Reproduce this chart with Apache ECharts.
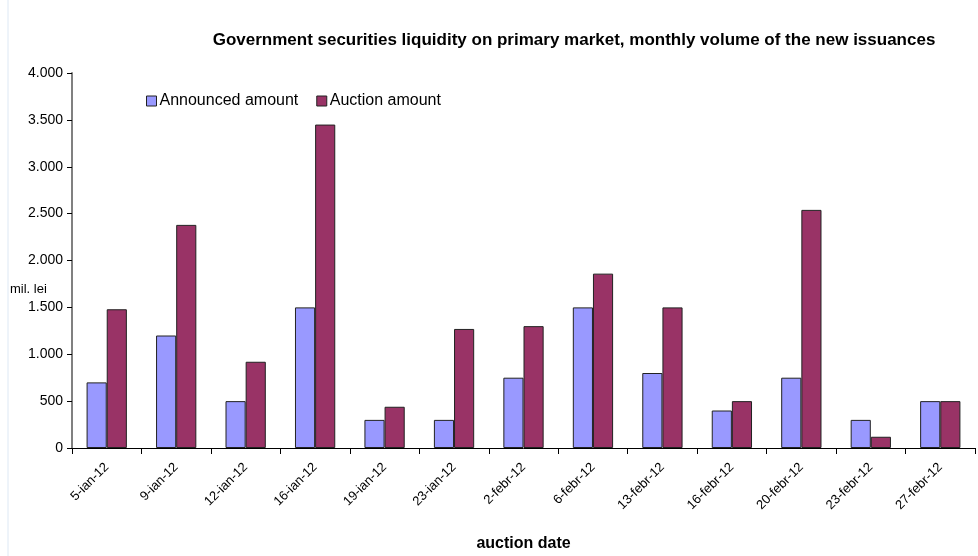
<!DOCTYPE html>
<html>
<head>
<meta charset="utf-8">
<script src="https://cdn.jsdelivr.net/npm/echarts@6/dist/echarts.min.js"></script>
<style>
  html, body { margin: 0; padding: 0; background: #fff; }
  #chart { width: 978px; height: 556px; }
</style>
</head>
<body>
<div id="chart"></div>
<script>
var dates = ['5-ian-12', '9-ian-12', '12-ian-12', '16-ian-12', '19-ian-12', '23-ian-12', '2-febr-12',
  '6-febr-12', '13-febr-12', '16-febr-12', '20-febr-12', '23-febr-12', '27-febr-12'];
var announced = [700, 1200, 500, 1500, 300, 300, 750, 1500, 800, 400, 750, 300, 500];
var auction = [1480, 2380, 920, 3450, 440, 1270, 1300, 1860, 1500, 500, 2540, 120, 500];
var yTicks = [0, 500, 1000, 1500, 2000, 2500, 3000, 3500, 4000];

var fmt = function (v) {
  return String(v).replace(/\B(?=(\d{3})+(?!\d))/g, '.');
};

var chart = echarts.init(document.getElementById('chart'));
var option = {
  backgroundColor: '#fff',
  animation: false,
  textStyle: { fontFamily: 'Liberation Sans, Arial, sans-serif' },
  title: {
    text: 'Government securities liquidity on primary market, monthly volume of the new issuances',
    left: 569, top: 27, textAlign: 'center',
    textStyle: { fontSize: 17, fontWeight: 'bold', color: '#000' }
  },
  legend: {
    left: 141, top: 88,
    icon: 'rect',
    itemWidth: 10, itemHeight: 10, itemGap: 18,
    textStyle: { fontSize: 16, color: '#000', padding: [0, 0, 0, -2] },
    data: [
      { name: 'Announced amount', itemStyle: { borderColor: '#222', borderWidth: 1 } },
      { name: 'Auction amount', itemStyle: { borderColor: '#222', borderWidth: 1 } }
    ]
  },
  grid: { left: 72, right: 3, top: 73, bottom: 108, containLabel: false, outerBoundsMode: 'none' },
  graphic: [
    { type: 'text', left: 10, top: 283, style: { text: 'mil. lei', fontSize: 13, fill: '#000' } },
    { type: 'line', shape: { x1: 8, y1: 0, x2: 8, y2: 556 }, style: { stroke: '#dde8f4', lineWidth: 1 } }
  ],
  xAxis: {
    type: 'category',
    data: dates,
    name: 'auction date',
    nameLocation: 'middle',
    nameGap: 88,
    nameTextStyle: { fontSize: 16, fontWeight: 'bold', color: '#000' },
    axisLine: { lineStyle: { color: '#000', width: 1 } },
    axisTick: { show: true, length: 6, lineStyle: { color: '#000' } },
    axisLabel: { rotate: 45, fontSize: 13, color: '#000', margin: 17, interval: 0 }
  },
  yAxis: {
    type: 'value',
    min: 0, max: 4000, interval: 500,
    axisLine: { show: true, lineStyle: { color: '#808080', width: 2 } },
    axisTick: { show: true, length: 5, lineStyle: { color: '#000' } },
    splitLine: { show: false },
    axisLabel: { fontSize: 14, color: '#000', margin: 9, formatter: fmt }
  },
  series: [
    {
      name: 'Announced amount', type: 'bar', data: announced,
      barGap: '0%', barCategoryGap: '42%',
      itemStyle: { color: '#9999FF', borderColor: '#222', borderWidth: 1 }
    },
    {
      name: 'Auction amount', type: 'bar', data: auction,
      itemStyle: { color: '#993366', borderColor: '#222', borderWidth: 1 }
    }
  ]
};
chart.setOption(option);
</script>
</body>
</html>
